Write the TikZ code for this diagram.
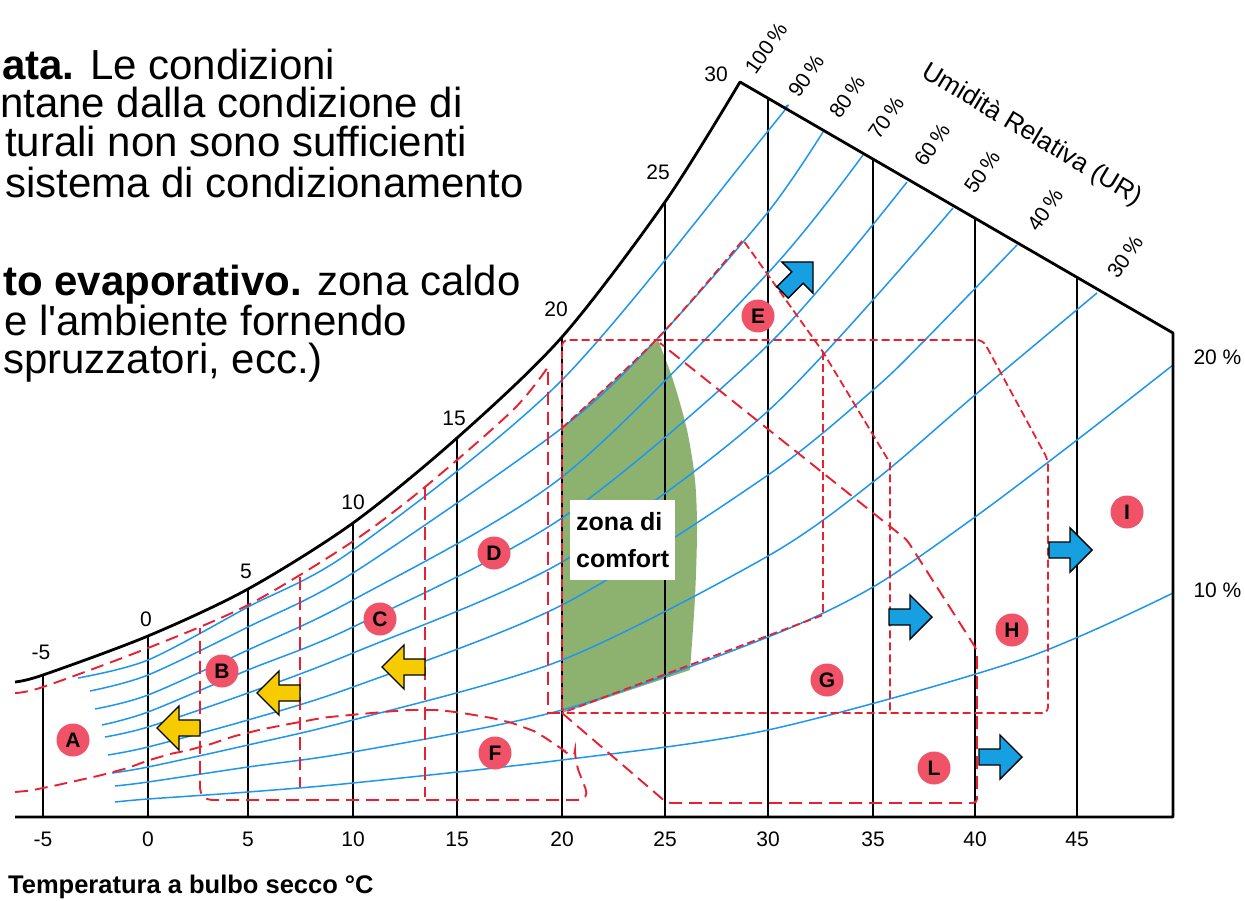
\documentclass[tikz,border=0pt]{standalone}
\usepackage{fontspec}
\setmainfont{Liberation Sans}
\setmonofont{Liberation Sans}

\definecolor{rhblue}{RGB}{30,150,240}
\definecolor{zonered}{RGB}{232,32,48}
\definecolor{tagred}{RGB}{240,82,104}
\definecolor{comfortgreen}{RGB}{141,178,112}
\definecolor{warmyellow}{RGB}{246,204,0}
\definecolor{coolblue}{RGB}{22,160,226}

\tikzset{
  barrow/.pic={
    \draw[line width=1.4pt, fill=#1] (-43,-8) -- (-22,-8) -- (-22,-22) -- (0,0) -- (-22,22) -- (-22,8) -- (-43,8) -- cycle;
  }
}

\begin{document}
\begin{tikzpicture}[x=1pt, y=-1pt,
    tline/.style={line width=1.4pt},
    rh/.style={line width=1.5pt, rhblue},
    zone/.style={line width=1.9pt, zonered, dash pattern=on 13pt off 7pt},
    zonefine/.style={line width=1.8pt, zonered, dash pattern=on 8pt off 4pt},
    tag/.style={circle, fill=tagred, minimum size=33pt, inner sep=0pt, font=\fontsize{21}{21}\selectfont\bfseries},
    tlab/.style={font=\fontsize{21}{21}\selectfont},
    rhlab/.style={font=\fontsize{21}{21}\selectfont, rotate=55},
    body/.style={anchor=base west, inner sep=0pt, font=\fontsize{42}{42}\selectfont}]

  \useasboundingbox (0,0) rectangle (1245,901);
  \fill[white] (0,0) rectangle (1245,901);

  % comfort zone
  \fill[comfortgreen] (562,428) -- (658,340) -- plot[smooth] coordinates {(658,340) (673,380) (687,430) (695,480) (697,530) (695,597) (690,670)} -- (562,713) -- cycle;

  \foreach \x/\y in {43/675, 148/636, 248/589, 353/523, 457/438, 562/337, 665/202, 768/98, 873/159, 975/218, 1077/277}
    \draw[tline] (\x,817) -- (\x,\y);

  % relative humidity curves
  \draw[rh] plot[smooth] coordinates {(78,678) (148,660) (248,607) (353,550) (562,380) (768,131) (785,108)};
  \draw[rh] plot[smooth] coordinates {(90,691) (148,675) (248,627) (353,573) (562,428) (658,338) (768,212) (823,132)};
  \draw[rh] plot[smooth] coordinates {(95,709) (148,695) (248,650) (353,600) (562,477) (768,273) (863,155)};
  \draw[rh] plot[smooth] coordinates {(102,725) (148,712) (248,670) (353,627) (562,518) (768,345) (907,182)};
  \draw[rh] plot[smooth] coordinates {(105,737) (148,727) (248,693) (353,653) (562,562) (768,411) (953,208)};
  \draw[rh] plot[smooth] coordinates {(108,755) (148,747) (248,720) (353,687) (562,605) (768,475) (873,390) (923,342) (1017,245)};
  \draw[rh] plot[smooth] coordinates {(112,773) (148,767) (248,745) (353,720) (562,660) (768,556) (873,482) (975,395) (1097,293)};
  \draw[rh] plot[smooth] coordinates {(115,786) (148,782) (248,767) (353,752) (562,710) (768,637) (873,587) (975,517) (1077,440) (1173,365)};
  \draw[rh] plot[smooth] coordinates {(115,802) (148,799) (248,792) (353,783) (562,760) (768,730) (1020,660) (1173,593)};

  \draw[line width=2.8pt, line join=round] (15,817) -- (1173,817) -- (1173,333) -- (740,82) -- plot[smooth] coordinates {(740,82) (665,202) (562,337) (457,438) (353,523) (248,589) (148,636) (43,675) (15,682)};

  % zones
  \draw[zone] plot[smooth] coordinates {(15,693) (43,687) (148,648) (248,605) (352,542) (425,487) (513,410) (548,367)} -- (548,713) -- (562,713);
  \draw[zone, rounded corners=12pt] plot[smooth] coordinates {(15,792) (43,788) (113,772) (160,757) (200,747) (247,733) (300,722) (340,716) (423,710) (480,716) (523,727) (553,743) (575,762)} -- (590,800) -- (200,800) -- (200,628);
  \draw[zone] (300,577) -- (300,787);
  \draw[zone] (425,487) -- (425,797);
  \draw[zonefine, rounded corners=6pt] (562,713) -- (562,340) -- (983,340) -- (1048,460) -- (1048,713) -- cycle;
  \draw[zonefine] plot[smooth] coordinates {(562,428) (658,338) (743,240)} -- (823,352) -- (890,463) -- (890,713);
  \draw[zonefine] (823,352) -- (823,615) -- (562,713);
  \draw[zone, rounded corners=4pt] (562,713) -- (667,803) -- (977,803) -- (977,650) -- (907,540) -- (660,343);

  \pic[rotate=180] at (157,728) {barrow=warmyellow};
  \pic[rotate=180] at (257,693) {barrow=warmyellow};
  \pic[rotate=180] at (382,667) {barrow=warmyellow};
  \pic at (932,617) {barrow=coolblue};
  \pic at (1022,757) {barrow=coolblue};
  \pic at (1092,550) {barrow=coolblue};
  \pic[rotate=45] at (813,262) {barrow=coolblue};

  \node[tag] (tagA) at (73,740) {A};
  \node[tag] (tagB) at (222,671) {B};
  \node[tag] (tagC) at (380,619) {C};
  \node[tag] (tagD) at (494,553) {D};
  \node[tag] (tagE) at (758,316) {E};
  \node[tag] (tagF) at (495,753) {F};
  \node[tag] (tagG) at (827,680) {G};
  \node[tag] (tagH) at (1012,630) {H};
  \node[tag] (tagI) at (1127,512) {I};
  \node[tag] (tagL) at (934,768) {L};

  \node[fill=white, anchor=north west, inner xsep=6pt, inner ysep=12pt, align=left, font=\fontsize{25}{37}\selectfont\bfseries] (comfort) at (570,500) {zona di\\comfort};

  \foreach \x/\t in {43/-5, 148/0, 248/5, 353/10, 457/15, 562/20, 665/25, 768/30, 873/35, 975/40, 1077/45}
    \node[tlab] (tick\t) at (\x,839) {\t};
  \foreach \x/\y/\t in {41/652/-5, 146/619/0, 246/571/5, 353/502/10, 454/418/15, 556/309/20, 658/172/25, 716/74/30}
    \node[tlab] (sat\t) at (\x,\y) {\t};
  \foreach \x/\y/\t in {766/48/100, 806/76/90, 847/97/80, 886/118/70, 932/145/60, 982/172/50, 1045/210/40, 1125/257/30}
    \node[rhlab] (rh\t) at (\x,\y) {\t\,\%};
  \node[tlab, anchor=west] (rh20) at (1190,357) {20 \%};
  \node[tlab, anchor=west] (rh10) at (1190,590) {10 \%};
  \node[font=\fontsize{26}{26}\selectfont, rotate=-31] (urtitle) at (1032,135) {Umidità Relativa (UR)};
  \node[anchor=base west, inner sep=0pt, font=\fontsize{25.5}{25.5}\selectfont\bfseries] (xtitle) at (8,893) {Temperatura a bulbo secco °C};

  \node[body] (ln1) at (2,80) {\textbf{ata.} Le condizioni};
  \node[body] (ln2) at (0,118) {ntane dalla condizione di};
  \node[body] (ln3) at (5,157) {turali non sono sufficienti};
  \node[body] (ln4) at (5,198) {sistema di condizionamento};
  \node[body] (ln5) at (3,296) {\textbf{to evaporativo.} zona caldo};
  \node[body] (ln6) at (4,335) {e l\texttt{'}ambiente fornendo};
  \node[body] (ln7) at (3,373) {spruzzatori, ecc.)};
\end{tikzpicture}
\end{document}
